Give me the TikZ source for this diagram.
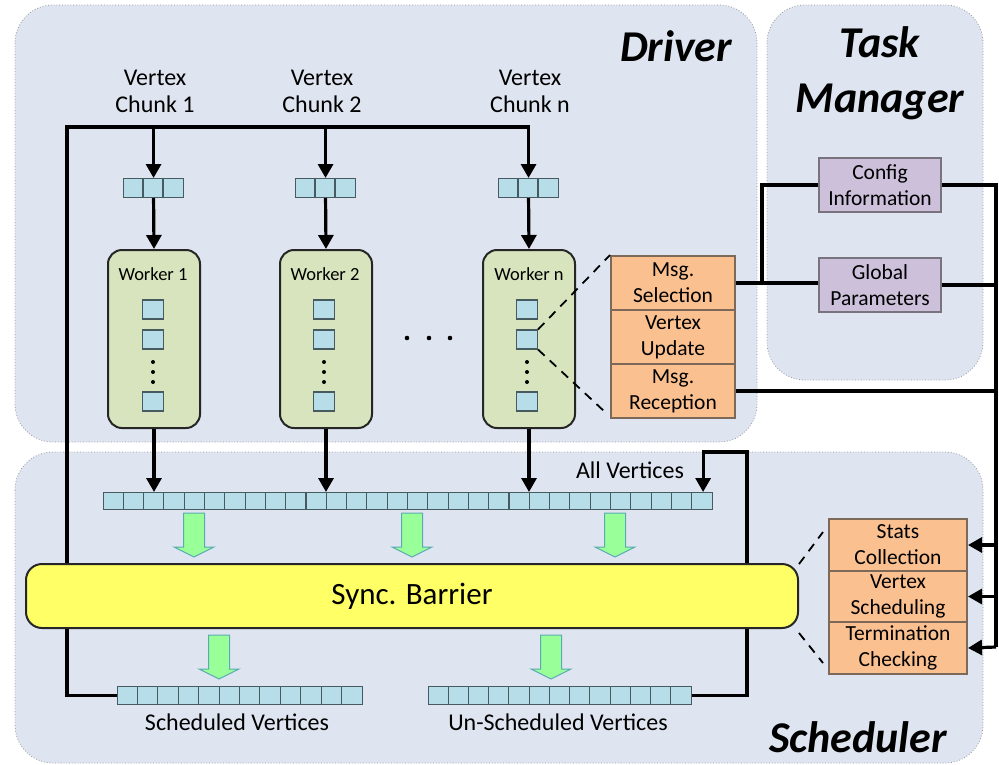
\documentclass[tikz,border=0pt]{standalone}
\usepackage{fontspec}
\setmainfont{Carlito}
\usetikzlibrary{arrows.meta,calc}
\pgfdeclarelayer{bg}
\pgfdeclarelayer{lines}
\pgfsetlayers{bg,lines,main}
\definecolor{panelf}{RGB}{223,229,240}
\definecolor{panelb}{RGB}{150,150,160}
\definecolor{cellf}{RGB}{183,221,232}
\definecolor{cellb}{RGB}{70,90,95}
\definecolor{workf}{RGB}{215,228,189}
\definecolor{orangef}{RGB}{250,192,144}
\definecolor{orangeb}{RGB}{125,105,90}
\definecolor{purplef}{RGB}{204,192,218}
\definecolor{purpleb}{RGB}{120,115,125}
\definecolor{yellowf}{RGB}{255,255,102}
\definecolor{greenf}{RGB}{153,255,153}
\definecolor{greenb}{RGB}{90,170,180}
\newcommand\cellrow[6]{%
  \node[cellbox, minimum width=#5pt, minimum height=#6pt, anchor=north west] (#1) at (#2,#3) {};
  \pgfmathsetmacro\cw{#5/#4}
  \pgfmathtruncatemacro\nm{#4-1}
  \foreach \i in {1,...,\nm} {\draw[cellline] ($(#1.north west)+(\i*\cw,0)$) -- ++(0,#6);}
}
\newcommand\garrow[2]{%
  \draw[garr] (#1-10.5,#2) -- (#1+10.5,#2) -- (#1+10.5,#2+34) -- (#1+20,#2+34) -- (#1,#2+44) -- (#1-20,#2+34) -- (#1-10.5,#2+34) -- cycle;
}
\begin{document}
\begin{tikzpicture}[x=1pt,y=-1pt,
  panel/.style={draw=panelb, fill=panelf, dotted, line width=0.8pt, rounded corners=38pt},
  cellbox/.style={draw=cellb, fill=cellf, line width=1.1pt, inner sep=0pt},
  cellline/.style={draw=cellb, line width=1.1pt},
  sq/.style={draw=cellb, fill=cellf, line width=1.1pt, inner sep=0pt, minimum width=21pt, minimum height=19pt},
  worker/.style={draw=black!85, fill=workf, line width=2pt, rounded corners=14pt, inner sep=0pt, minimum width=92pt, minimum height=178pt, anchor=north west},
  obox/.style={draw=orangeb, fill=orangef, line width=2pt, inner sep=0pt, align=center, anchor=north west, font=\fontsize{21.5}{26}\selectfont},
  pbox/.style={draw=purpleb, fill=purplef, line width=2pt, inner sep=0pt, align=center, anchor=north west, font=\fontsize{21.5}{26}\selectfont},
  lbl/.style={align=center, inner sep=0pt, font=\fontsize{24}{27}\selectfont},
  wlbl/.style={inner sep=0pt, font=\fontsize{18.5}{20}\selectfont},
  ttl/.style={align=center, inner sep=0pt, font=\fontsize{44}{55}\selectfont\bfseries\itshape},
  thk/.style={line width=3.2pt},
  arr/.style={-{Triangle[width=15pt,length=14pt]}},
  dsh/.style={line width=1.8pt, dash pattern=on 9pt off 7pt},
  garr/.style={draw=greenb, fill=greenf, line width=1pt}
]
\useasboundingbox (0,0) rectangle (999,764);
% panels
\begin{pgfonlayer}{bg}
\fill[white] (0,0) rectangle (999,764);
\draw[panel] (15,5) rectangle (757,442);
\draw[panel] (767,5) rectangle (983,380);
\draw[panel] (15,452) rectangle (983,763);
\end{pgfonlayer}
% titles
\node[ttl] (tdrv) at (676,46) {Driver};
\node[ttl] (ttm) at (880,73) {Task\\Manager};
\node[ttl] (tsch) at (858,737) {Scheduler};
% chunk labels
\node[lbl] (cl1) at (155,91) {Vertex\\Chunk 1};
\node[lbl] (cl2) at (322,91) {Vertex\\Chunk 2};
\node[lbl] (cln) at (530,91) {Vertex\\Chunk n};
% small rows
\cellrow{r1}{123}{178}{3}{60}{19}
\cellrow{r2}{295}{178}{3}{60}{19}
\cellrow{rn}{498}{178}{3}{60}{19}
% workers
\node[worker] (w1) at (107,249) {};
\node[worker] (w2) at (279,249) {};
\node[worker] (wn) at (482,249) {};
\node[wlbl] (wl1) at (153,274) {Worker 1};
\node[wlbl] (wl2) at (325,274) {Worker 2};
\node[wlbl] (wln) at (529,274) {Worker n};
\foreach \n/\x in {1/153,2/324,n/527} {
  \node[sq] (w\n a) at (\x,309.5) {};
  \node[sq] (w\n b) at (\x,339.5) {};
  \node[sq] (w\n c) at (\x,401.5) {};
  \foreach \y in {362,372,382} {\fill (\x,\y) circle[radius=2pt];}
}
\foreach \x in {407,429,450} {\fill (\x,338) circle[radius=2.3pt];}
% orange driver boxes
\node[obox, minimum width=124pt, minimum height=54pt] (ms) at (610,255) {Msg.\\Selection};
\node[obox, minimum width=124pt, minimum height=54pt] (vu) at (610,309) {Vertex\\Update};
\node[obox, minimum width=124pt, minimum height=54pt] (mr) at (610,363) {Msg.\\Reception};
% purple boxes
\node[pbox, minimum width=122pt, minimum height=54pt] (ci) at (818,157) {Config\\Information};
\node[pbox, minimum width=122pt, minimum height=54pt] (gp) at (818,257) {Global\\Parameters};
% all vertices
\cellrow{allv}{103}{492}{30}{609}{17}
\node[lbl] (alab) at (630,470) {All Vertices};
% barrier
\node[draw=black!85, fill=yellowf, line width=2pt, rounded corners=16pt, minimum width=772pt, minimum height=64pt, anchor=north west, inner sep=0pt] (sb) at (25,563) {};
\node[inner sep=0pt, font=\fontsize{31}{36}\selectfont] (sbl) at (412,596) {Sync. Barrier};
% bottom rows
\cellrow{sched}{117}{686}{12}{245}{18}
\cellrow{unsch}{428}{686}{13}{263}{18}
\node[lbl] (slab) at (237,722) {Scheduled Vertices};
\node[lbl] (ulab) at (558,722) {Un-Scheduled Vertices};
% scheduler boxes
\node[obox, minimum width=138pt, minimum height=52pt] (sc) at (828,518) {Stats\\Collection};
\node[obox, minimum width=138pt, minimum height=51pt] (vs) at (828,570) {Vertex\\Scheduling};
\node[obox, minimum width=138pt, minimum height=52pt] (tc) at (828,621) {Termination\\Checking};
% green arrows
\garrow{194}{513}
\garrow{412}{513}
\garrow{615}{513}
\garrow{219}{635}
\garrow{551}{635}
% connectors
\coordinate (tl) at (67,127);
\coordinate (fb) at (747,452);
\coordinate (j1) at (762,282);
\coordinate (rb) at (996,647);
\begin{pgfonlayer}{lines}
\draw[thk,arr] (sched.west) -- (sched.west -| tl) -- (tl) -| (rn.north);
\draw[thk,arr] (r1.north |- tl) -- (r1.north);
\draw[thk,arr] (r2.north |- tl) -- (r2.north);
\draw[thk,arr] (r1.south) -- (w1.north);
\draw[thk,arr] (r2.south) -- (w2.north);
\draw[thk,arr] (rn.south) -- (wn.north);
\draw[thk,arr] (w1.south) -- (w1.south |- allv.north);
\draw[thk,arr] (w2.south) -- (w2.south |- allv.north);
\draw[thk,arr] (wn.south) -- (wn.south |- allv.north);
\draw[thk,arr] (unsch.east) -| (fb) -| ($(allv.north east)+(-10,0)$);
\draw[thk] (ms.east) -- (ms.east -| gp.west);
\draw[thk] (ci.west) -| (j1);
\draw[thk] (ci.east) -| (rb);
\draw[thk] (gp.east) -- (gp.east -| rb);
\draw[thk] (mr.east) -- (mr.east -| rb);
\draw[thk,arr] (sc.east -| rb) -- (sc.east);
\draw[thk,arr] (vs.east -| rb) -- (vs.east);
\draw[thk,arr] (rb) -- (tc.east);
\end{pgfonlayer}
\draw[dsh] (wnb.north east) -- (ms.north west);
\draw[dsh] (wnb.south east) -- ($(mr.south west)+(-5,-7)$);
\draw[dsh] ($(sb.north east)+(0,1)$) -- ($(sc.west)+(-5,-13)$);
\draw[dsh] ($(sb.south east)+(0,4)$) -- ($(tc.west)+(-5,15)$);
\end{tikzpicture}
\end{document}
